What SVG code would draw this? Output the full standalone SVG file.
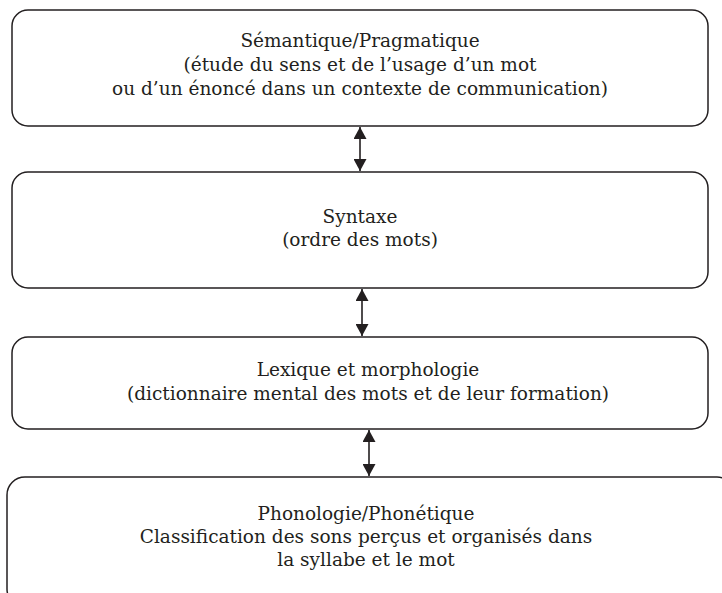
<svg xmlns="http://www.w3.org/2000/svg" width="722" height="593" viewBox="0 0 722 593">
<style>
.box{fill:#ffffff;stroke:#231f20;stroke-width:1.5}
.t{font-family:"DejaVu Serif","Liberation Serif",serif;font-size:18.5px;fill:#231f20;text-anchor:middle}
.c{stroke:#231f20;stroke-width:1.6;fill:none;marker-start:url(#ah);marker-end:url(#ah)}
</style>
<defs>
<marker id="ah" viewBox="0 0 12 13" refX="12" refY="6.5" markerWidth="12" markerHeight="13" markerUnits="userSpaceOnUse" orient="auto-start-reverse">
<path d="M0,0 L12,6.5 L0,13 Z" fill="#231f20"/>
</marker>
</defs>
<rect width="722" height="593" fill="#ffffff"/>
<g id="semantique">
<rect class="box" x="12" y="10" width="696" height="116" rx="16"/>
<text class="t" x="360" y="47">Sémantique/Pragmatique</text>
<text class="t" x="360" y="71">(étude du sens et de l’usage d’un mot</text>
<text class="t" x="360" y="95">ou d’un énoncé dans un contexte de communication)</text>
</g>
<g id="syntaxe">
<rect class="box" x="12" y="172" width="696" height="116" rx="16"/>
<text class="t" x="360" y="223">Syntaxe</text>
<text class="t" x="360" y="246">(ordre des mots)</text>
</g>
<g id="lexique">
<rect class="box" x="12" y="337" width="696" height="92" rx="16"/>
<text class="t" x="368" y="376">Lexique et morphologie</text>
<text class="t" x="368" y="400">(dictionnaire mental des mots et de leur formation)</text>
</g>
<g id="phonologie">
<rect class="box" x="7" y="477" width="728" height="130" rx="18"/>
<text class="t" x="366" y="520">Phonologie/Phonétique</text>
<text class="t" x="366" y="543">Classification des sons perçus et organisés dans</text>
<text class="t" x="366" y="566">la syllabe et le mot</text>
</g>
<g id="connectors">
<line class="c" x1="360" y1="127" x2="360" y2="171"/>
<line class="c" x1="362" y1="289" x2="362" y2="336"/>
<line class="c" x1="369" y1="430" x2="369" y2="476"/>
</g>
</svg>
